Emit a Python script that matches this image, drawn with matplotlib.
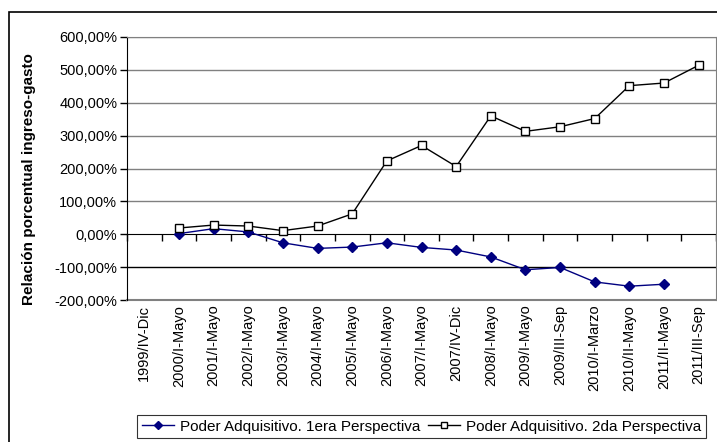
import numpy as np
import matplotlib
matplotlib.use("Agg")
import matplotlib.pyplot as plt
from matplotlib.patches import Rectangle
from matplotlib.ticker import FuncFormatter, MultipleLocator
from matplotlib.transforms import blended_transform_factory

plt.rcParams['font.family'] = ['Liberation Sans', 'DejaVu Sans']

categorias = ["1999/IV-Dic", "2000/I-Mayo", "2001/I-Mayo", "2002/I-Mayo", "2003/I-Mayo",
              "2004/I-Mayo", "2005/I-Mayo", "2006/I-Mayo", "2007/I-Mayo", "2007/IV-Dic",
              "2008/I-Mayo", "2009/I-Mayo", "2009/III-Sep", "2010/I-Marzo", "2010/II-Mayo",
              "2011/II-Mayo", "2011/III-Sep"]

# valores en %; None = sin dato
perspectiva_1 = [None, 2, 17, 7, -26, -43, -39, -26, -40, -48, -69, -108, -101, -145, -158, -152, None]
perspectiva_2 = [None, 19, 28, 25, 11, 25, 62, 223, 270, 206, 360, 313, 327, 352, 452, 460, 514]

nombre_1 = "Poder Adquisitivo. 1era Perspectiva"
nombre_2 = "Poder Adquisitivo. 2da Perspectiva"

x = np.arange(len(categorias))
y1 = np.array([np.nan if v is None else v for v in perspectiva_1], dtype=float)
y2 = np.array([np.nan if v is None else v for v in perspectiva_2], dtype=float)

fig = plt.figure(figsize=(7.17, 4.42), dpi=100)
W, H = 717, 442

# marco exterior
fig.patches.append(Rectangle((9 / W, -0.05), 1.1, 1 - 12 / H + 0.05, transform=fig.transFigure,
                             fill=False, edgecolor='black', linewidth=1.2))

ax = fig.add_axes([127 / W, 1 - 300 / H, (716 - 127) / W, (300 - 37) / H])

ax.plot(x, y1, color='#000080', linewidth=1, marker='D', markersize=5,
        markerfacecolor='#000080', markeredgecolor='#000080', label=nombre_1)
ax.plot(x, y2, color='black', linewidth=1, marker='s', markersize=6,
        markerfacecolor='white', markeredgecolor='black', label=nombre_2)

ax.set_xlim(-0.5, len(categorias) - 0.5)
ax.set_ylim(-200, 600)
ax.yaxis.set_major_locator(MultipleLocator(100))
ax.yaxis.set_major_formatter(FuncFormatter(lambda v, p: f"{v:.2f}".replace('.', ',') + '%'))
ax.tick_params(axis='y', direction='out', length=5, width=1, color='black', labelsize=10.5, pad=2)

for v in range(100, 700, 100):
    ax.axhline(v, color='#808080', linewidth=1, zorder=0)
ax.axhline(-100, color='black', linewidth=1, zorder=0)

for s in ['top', 'right']:
    ax.spines[s].set_color('#808080')
ax.spines['left'].set_color('black')
ax.spines['bottom'].set_position(('data', 0))
ax.spines['bottom'].set_color('black')
ax.spines['bottom'].set_zorder(1)
ax.axhline(-200, color='#808080', linewidth=1.5, clip_on=False)

ax.set_xticks(x, [''] * len(x))
ax.set_xticks(np.arange(len(categorias) + 1) - 0.5, minor=True)
ax.tick_params(axis='x', which='major', length=0)
ax.tick_params(axis='x', which='minor', direction='out', length=5, width=1, color='black')

trans = blended_transform_factory(ax.transData, ax.transAxes)
for xi, lab in zip(x, categorias):
    ax.text(xi, -0.018, lab, transform=trans, rotation=90, ha='center', va='top', fontsize=10.5)

ax.set_ylabel("Relación porcentual ingreso-gasto", fontsize=11, fontweight='bold')
ax.yaxis.set_label_coords(-0.1545, 0.46)

leg = fig.legend(loc='upper left', bbox_to_anchor=(137 / W, 1 - 415 / H), ncol=2,
                 fontsize=11, frameon=True, fancybox=False, edgecolor='black',
                 handlelength=2.1, handletextpad=0.4, columnspacing=0.5,
                 borderpad=0.3, borderaxespad=0, markerscale=0.8)
leg.get_frame().set_linewidth(0.8)

fig.savefig("out.png", dpi=100)
